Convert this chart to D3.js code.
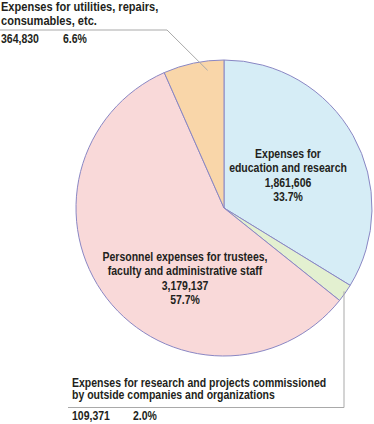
<!DOCTYPE html>
<html>
<head>
<meta charset="utf-8">
<script src="https://cdn.jsdelivr.net/npm/d3@7"></script>
<style>
  body { margin: 0; background: #fff; }
  svg text { font-family: "Liberation Sans", Arial, sans-serif; font-weight: bold; font-size: 12.5px; fill: #231f20; }
</style>
</head>
<body>
<div id="chart"></div>
<script>
var categories = ["education", "research", "personnel", "utilities"];
var values = [1861606, 109371, 3179137, 364830];
var percents = ["33.7%", "2.0%", "57.7%", "6.6%"];
var valueLabels = ["1,861,606", "109,371", "3,179,137", "364,830"];
var nameLines = [
    ["Expenses for", "education and research"],
    ["Expenses for research and projects commissioned", "by outside companies and organizations"],
    ["Personnel expenses for trustees,", "faculty and administrative staff"],
    ["Expenses for utilities, repairs,", "consumables, etc."]
];
var colors = ["#d6edf6", "#e3f0d0", "#f9d9d9", "#f9d6a9"];

var width = 374, height = 424;
var cx = 224, cy = 208, radius = 148;
var squeeze = 0.84; // the original type is a condensed face

var svg = d3.select("#chart").append("svg")
    .attr("width", width)
    .attr("height", height);

var pie = d3.pie().sort(null).value(function(d){ return d; });
var arcs = pie(values);
var arc = d3.arc().innerRadius(0).outerRadius(radius);

var g = svg.append("g").attr("transform", "translate(" + cx + "," + cy + ")");

g.selectAll("path")
    .data(arcs)
    .enter().append("path")
    .attr("d", arc)
    .attr("fill", function(d, i){ return colors[i]; })
    .attr("stroke", "#8a87c4")
    .attr("stroke-width", 1);

// text block: lines at given offsets, squeezed horizontally
function addText(x, y, anchor, lines, dys, sx){
    var t = svg.append("text")
        .attr("text-anchor", anchor)
        .attr("transform", "translate(" + x + "," + y + ") scale(" + (sx || squeeze) + ",1)");
    lines.forEach(function(s, k){
        t.append("tspan").attr("x", 0).attr("y", dys[k]).text(s);
    });
    return t;
}

// labels inside the two big slices
addText(288, 158, "middle", nameLines[0].concat([valueLabels[0], percents[0]]), [0, 14, 29, 43]);
addText(185, 261, "middle", nameLines[2].concat([valueLabels[2], percents[2]]), [0, 14, 29, 43]);

// outside labels with leader lines
var lead = "#a9a9a9";
var a3 = d3.arc().innerRadius(radius * 0.93).outerRadius(radius * 0.93).centroid(arcs[3]);
svg.append("polyline")
    .attr("points", [[0, 30], [167, 30], [cx + a3[0] + 12, cy + a3[1] - 3]].join(" "))
    .attr("fill", "none")
    .attr("stroke", lead)
    .attr("stroke-width", 1);

var a1 = d3.arc().innerRadius(radius * 0.98).outerRadius(radius * 0.98).centroid(arcs[1]);
svg.append("polyline")
    .attr("points", [[344, cy + a1[1]], [344, 407.5], [68, 407.5]].join(" "))
    .attr("fill", "none")
    .attr("stroke", lead)
    .attr("stroke-width", 1);

addText(1, 11, "start", nameLines[3], [0, 14], 0.885);
addText(1, 43, "start", [valueLabels[3]], [0]);
addText(63, 43, "start", [percents[3]], [0]);

addText(72, 387, "start", nameLines[1], [0, 12]);
addText(72, 420, "start", [valueLabels[1]], [0]);
addText(133, 420, "start", [percents[1]], [0]);
</script>
</body>
</html>
